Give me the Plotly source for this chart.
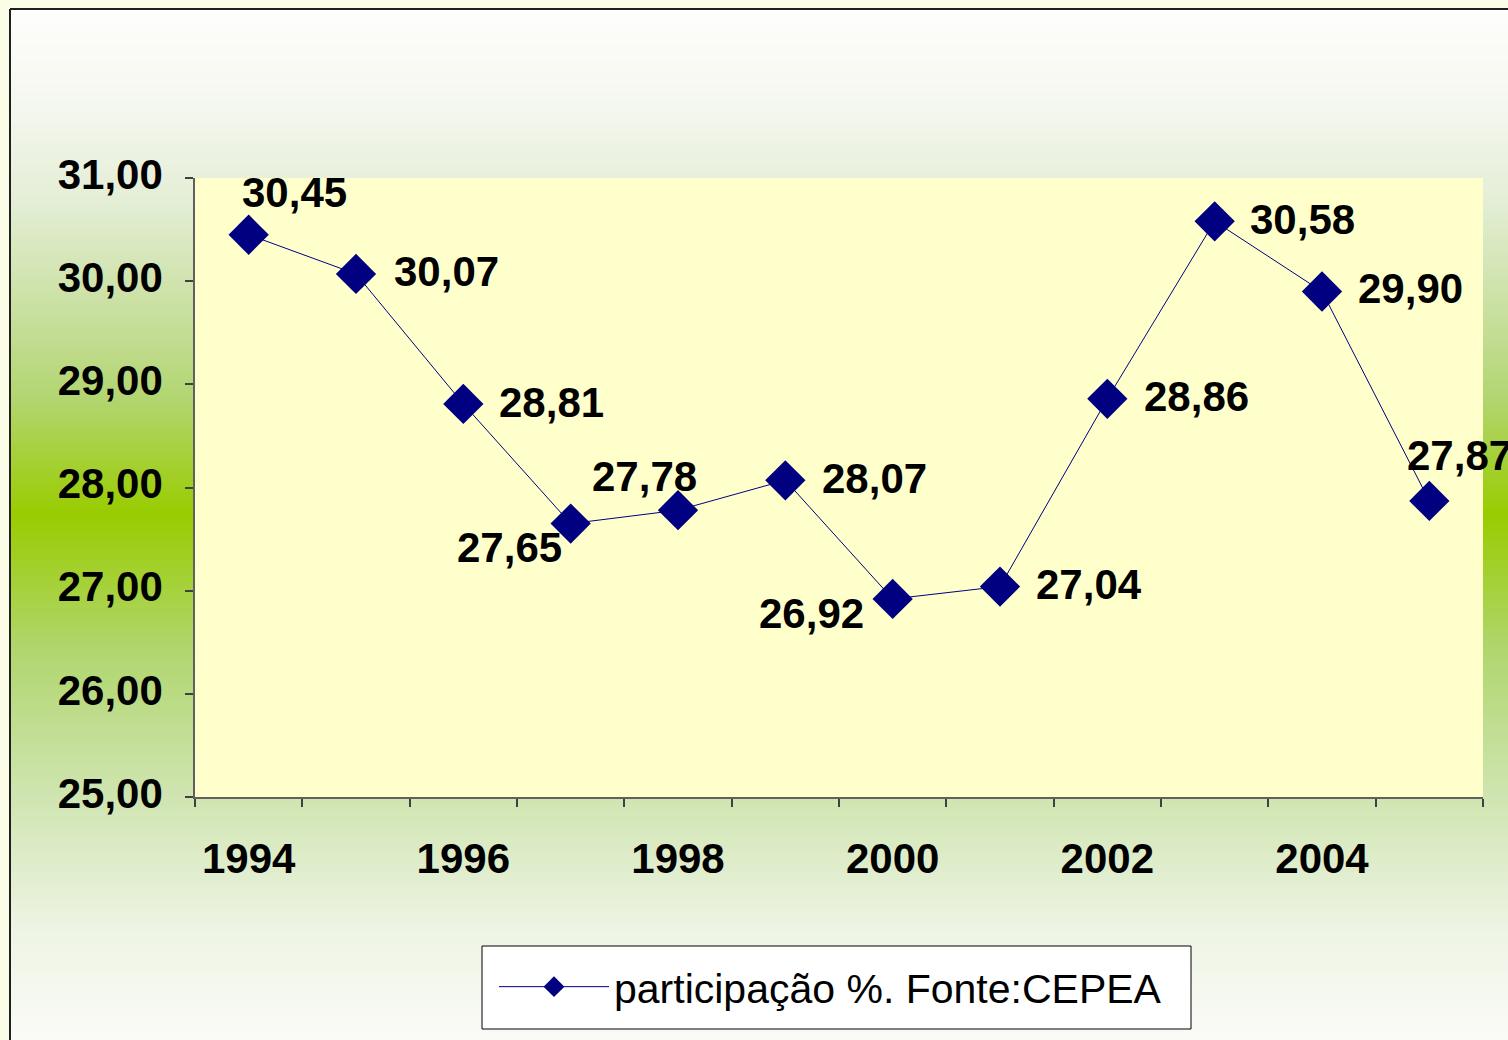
import plotly.graph_objects as go

# ---- data ----
years = [1994, 1995, 1996, 1997, 1998, 1999, 2000, 2001, 2002, 2003, 2004, 2005]
participacao = [30.45, 30.07, 28.81, 27.65, 27.78, 28.07, 26.92, 27.04, 28.86, 30.58, 29.90, 27.87]
x_tick_years = [1994, 1996, 1998, 2000, 2002, 2004]
series_name = "participação %. Fonte:CEPEA"

# ---- style ----
W, H = 1508, 1040
# plot area in page pixels
PL, PR, PT, PB = 195, 1483, 178, 797
ML, MT = PL, PT
MR, MB = W - PR, H - PB
PW, PH = PR - PL, PB - PT
NAVY = "#000080"
FONT = "Liberation Sans, Arial, sans-serif"

def px2paper_x(px):  # page px -> paper
    return (px - PL) / PW

def px2paper_y(py):
    return (PB - py) / PH

# label offsets (pixels) per point: (dx, dy) of the label centre from the marker
label_offsets = [(46, -42), (90, -2), (88, -1), (-61, 24), (-34, -34), (89, -2),
                 (-81, 15), (89, -2), (89, -2), (88, -2), (88, -3), (30, -45)]

# background gradient stops (page y, rgb)
stops = [(9, (254, 254, 252)), (110, (244, 247, 238)), (200, (228, 238, 214)),
         (300, (204, 225, 166)), (400, (178, 213, 112)), (515, (153, 204, 0)),
         (650, (176, 214, 110)), (800, (208, 229, 178)), (930, (238, 244, 228)),
         (1040, (250, 251, 247))]

def color_at(py):
    for (y0, c0), (y1, c1) in zip(stops[:-1], stops[1:]):
        if y0 <= py <= y1:
            t = (py - y0) / (y1 - y0)
            c = [round(a + (b - a) * t) for a, b in zip(c0, c1)]
            return "rgb(%d,%d,%d)" % tuple(c)
    return "rgb(%d,%d,%d)" % stops[-1][1]

shapes = []
step = 4
FRAME_X = 10
FRAME_Y = 9
py = FRAME_Y
while py < H + 10:
    shapes.append(dict(type="rect", xref="paper", yref="paper", layer="below",
                       x0=px2paper_x(FRAME_X), x1=px2paper_x(W + 30),
                       y0=px2paper_y(py - 0.5), y1=px2paper_y(py + step + 0.5),
                       fillcolor=color_at(py + step / 2), line=dict(width=0)))
    py += step
# plot area
shapes.append(dict(type="rect", xref="paper", yref="paper", layer="below",
                   x0=0, x1=1, y0=0, y1=1, fillcolor="#FFFFCC", line=dict(width=0)))
# frame
shapes.append(dict(type="line", xref="paper", yref="paper", layer="below",
                   x0=px2paper_x(FRAME_X), x1=px2paper_x(W + 30),
                   y0=px2paper_y(FRAME_Y), y1=px2paper_y(FRAME_Y),
                   line=dict(color="#202020", width=2)))
shapes.append(dict(type="line", xref="paper", yref="paper", layer="below",
                   x0=px2paper_x(FRAME_X), x1=px2paper_x(FRAME_X),
                   y0=px2paper_y(FRAME_Y), y1=px2paper_y(H + 30),
                   line=dict(color="#202020", width=2)))
# legend box
LG_L, LG_R, LG_T, LG_B = 482, 1191, 946, 1029
shapes.append(dict(type="rect", xref="paper", yref="paper", layer="below",
                   x0=px2paper_x(LG_L), x1=px2paper_x(LG_R),
                   y0=px2paper_y(LG_B), y1=px2paper_y(LG_T),
                   fillcolor="white", line=dict(color="black", width=1)))

fig = go.Figure()
fig.add_trace(go.Scatter(
    x=years, y=participacao, name=series_name, mode="lines+markers",
    line=dict(color=NAVY, width=1),
    marker=dict(symbol="diamond", size=31, color=NAVY, line=dict(width=0)),
    cliponaxis=False, hoverinfo="x+y",
))

annotations = []
for xv, yv, (dx, dy) in zip(years, participacao, label_offsets):
    annotations.append(dict(
        x=xv, y=yv, xref="x", yref="y", text=("%.2f" % yv).replace(".", ","),
        showarrow=False, xanchor="center", yanchor="middle",
        xshift=dx, yshift=-dy,
        font=dict(family=FONT, size=42, color="black", weight="bold"),
    ))

fig.update_layout(
    width=W, height=H,
    margin=dict(l=ML, r=MR, t=MT, b=MB, autoexpand=False),
    paper_bgcolor="#FBFDE6",
    plot_bgcolor="rgba(0,0,0,0)",
    separators=",.",
    shapes=shapes,
    annotations=annotations,
    showlegend=True,
    legend=dict(
        x=px2paper_x(494), y=px2paper_y(987), xanchor="left", yanchor="middle",
        bgcolor="rgba(0,0,0,0)", borderwidth=0,
        font=dict(family=FONT, size=41, color="black"),
        itemwidth=110,
    ),
    xaxis=dict(
        range=[1993.5, 2005.5], tickvals=x_tick_years, ticktext=[str(v) for v in x_tick_years],
        ticks="", showgrid=False, zeroline=False,
        showline=True, linecolor="#606060", linewidth=1.5,
        tickfont=dict(family=FONT, size=42, color="black", weight="bold"),
        ticklabelstandoff=24,
        minor=dict(tick0=1993.5, dtick=1, ticks="outside", ticklen=8,
                   tickcolor="#404040", tickwidth=1.5),
    ),
    yaxis=dict(
        range=[25, 31], dtick=1, tickformat=".2f",
        ticks="outside", ticklen=8, tickcolor="#404040", tickwidth=1.5,
        showgrid=False, zeroline=False,
        showline=True, linecolor="#606060", linewidth=1.5,
        tickfont=dict(family=FONT, size=42, color="black", weight="bold"),
        ticklabelstandoff=14, ticklabelshift=-4,
    ),
)

fig.write_html("out.html", config={"displayModeBar": False},
               post_script="document.body.style.margin='0';document.body.style.overflow='hidden';")
